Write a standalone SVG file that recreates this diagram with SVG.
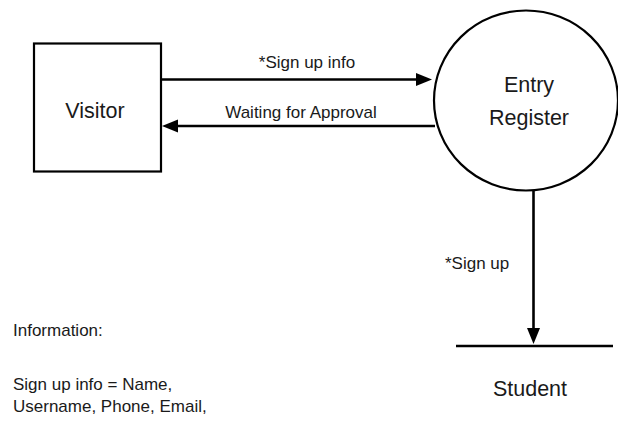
<svg xmlns="http://www.w3.org/2000/svg" width="618" height="421" viewBox="0 0 618 421">
  <style>
    .shape { fill: #ffffff; stroke: #000000; stroke-width: 2.2; }
    .flow { fill: none; stroke: #000000; stroke-width: 2.6; }
    .big { font-family: "Liberation Sans", Arial, sans-serif; font-size: 21.5px; fill: #1a1a1a; text-anchor: middle; }
    .small { font-family: "Liberation Sans", Arial, sans-serif; font-size: 17px; fill: #1a1a1a; }
    .mid { text-anchor: middle; }
  </style>
  <defs>
    <marker id="head" markerUnits="userSpaceOnUse" markerWidth="17" markerHeight="14" refX="6" refY="6.5" orient="auto">
      <path d="M0,0 L16,6.5 L0,13 Z" fill="#000000"/>
    </marker>
  </defs>

  <rect width="618" height="421" fill="#ffffff"/>

  <!-- external entity -->
  <g id="visitor">
    <rect class="shape" x="34" y="43.5" width="127" height="128"/>
    <text class="big" x="95" y="118">Visitor</text>
  </g>

  <!-- process -->
  <g id="entry-register">
    <ellipse class="shape" cx="526" cy="100.5" rx="92" ry="90"/>
    <text class="big" x="529" y="92">Entry</text>
    <text class="big" x="529" y="125">Register</text>
  </g>

  <!-- data store -->
  <g id="student">
    <line class="flow" x1="456" y1="346" x2="613" y2="346"/>
    <text class="big" x="530" y="396">Student</text>
  </g>

  <!-- data flows -->
  <g id="connectors">
    <line class="flow" x1="161" y1="79.5" x2="422" y2="79.5" marker-end="url(#head)"/>
    <text class="small mid" x="307" y="68">*Sign up info</text>

    <line class="flow" x1="435" y1="126" x2="172" y2="126" marker-end="url(#head)"/>
    <text class="small mid" x="301" y="118">Waiting for Approval</text>

    <line class="flow" x1="533.5" y1="190" x2="533.5" y2="334" marker-end="url(#head)"/>
    <text class="small" x="445" y="269">*Sign up</text>
  </g>

  <!-- notes -->
  <g id="notes">
    <text class="small" x="13" y="336">Information:</text>
    <text class="small" x="13" y="390">Sign up info = Name,</text>
    <text class="small" x="13" y="412">Username, Phone, Email,</text>
  </g>
</svg>
